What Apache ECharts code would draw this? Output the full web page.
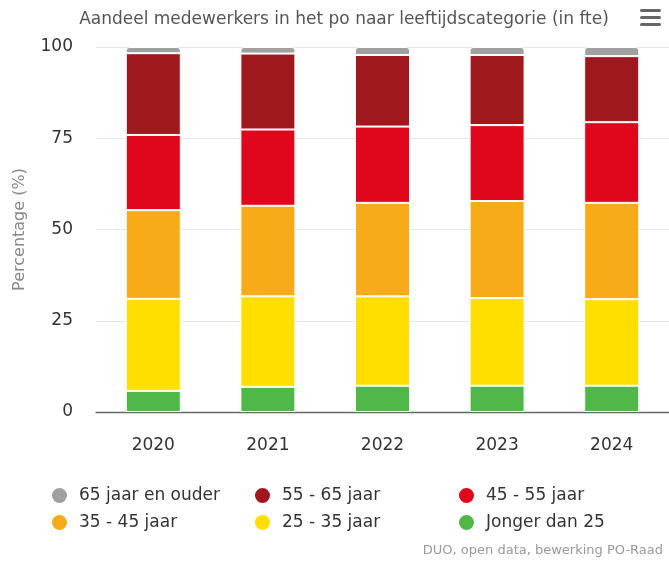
<!DOCTYPE html>
<html>
<head>
<meta charset="utf-8">
<style>html,body{margin:0;padding:0;background:#fff}#c{width:669px;height:561px}</style>
<script src="https://cdn.jsdelivr.net/npm/echarts@6/dist/echarts.min.js"></script>
</head>
<body>
<div id="c"></div>
<script>
const categories = ['2020', '2021', '2022', '2023', '2024'];
const seriesNames = ['65 jaar en ouder', '55 - 65 jaar', '45 - 55 jaar', '35 - 45 jaar', '25 - 35 jaar', 'Jonger dan 25'];
const jongerDan25 = [5.8, 6.9, 7.2, 7.2, 7.2];
const jaar25_35 = [25.2, 24.8, 24.5, 24.0, 23.7];
const jaar35_45 = [24.3, 24.8, 25.6, 26.6, 26.4];
const jaar45_55 = [20.6, 20.9, 20.9, 20.8, 22.1];
const jaar55_65 = [22.4, 20.8, 19.6, 19.2, 18.1];
const jaar65plus = [1.7, 1.8, 2.2, 2.2, 2.5];
const yTicks = [0, 25, 50, 75, 100];

const colors = {
  '65 jaar en ouder': '#a0a0a0',
  '55 - 65 jaar': '#9e181d',
  '45 - 55 jaar': '#e0061b',
  '35 - 45 jaar': '#f7ab18',
  '25 - 35 jaar': '#ffde00',
  'Jonger dan 25': '#4fb848'
};

const stackOrder = [
  ['Jonger dan 25', jongerDan25],
  ['25 - 35 jaar', jaar25_35],
  ['35 - 45 jaar', jaar35_45],
  ['45 - 55 jaar', jaar45_55],
  ['55 - 65 jaar', jaar55_65],
  ['65 jaar en ouder', jaar65plus]
];

const FONT = '"DejaVu Sans", sans-serif';

const chart = echarts.init(document.getElementById('c'), null, {renderer: 'canvas'});

const legendCols = [50, 253, 457];
const legendRows = [486, 513];
const legends = seriesNames.map((name, i) => ({
  icon: 'circle',
  itemWidth: 17,
  itemHeight: 17,
  left: legendCols[i % 3],
  top: legendRows[Math.floor(i / 3)],
  data: [name],
  selectedMode: false,
  padding: 0,
  textStyle: {fontFamily: FONT, fontSize: 17, color: '#333', padding: [0, 0, 0, 6]}
}));

chart.setOption({
  animation: false,
  textStyle: {fontFamily: FONT},
  title: [
    {
      text: 'Aandeel medewerkers in het po naar leeftijdscategorie (in fte)',
      left: 339, top: 6, textAlign: 'center',
      textStyle: {fontFamily: FONT, fontSize: 17, fontWeight: 'normal', color: '#555'}
    },
    {
      text: 'DUO, open data, bewerking PO-Raad',
      right: 6, top: 544, padding: 0,
      textStyle: {fontFamily: FONT, fontSize: 13, fontWeight: 'normal', color: '#999'}
    }
  ],
  legend: legends,
  grid: {left: 96, top: 47, width: 575, bottom: 149, containLabel: false},
  xAxis: {
    type: 'category',
    data: categories,
    axisLine: {lineStyle: {color: '#666', width: 1.3}},
    axisTick: {show: false},
    axisLabel: {fontFamily: FONT, fontSize: 17, color: '#333', margin: 25}
  },
  yAxis: {
    type: 'value',
    min: yTicks[0], max: yTicks[yTicks.length - 1], interval: 25,
    name: 'Percentage (%)',
    nameLocation: 'middle',
    nameGap: 68,
    nameTextStyle: {fontFamily: FONT, fontSize: 16, color: '#888'},
    axisLine: {show: false},
    axisTick: {show: false},
    axisLabel: {fontFamily: FONT, fontSize: 17, color: '#333', margin: 23},
    splitLine: {lineStyle: {color: '#e6e6e6', width: 1}}
  },
  series: stackOrder.map(([name, values], i) => ({
    name: name,
    type: 'bar',
    stack: 'total',
    barWidth: 55,
    data: values,
    itemStyle: {
      color: colors[name],
      borderColor: '#fff',
      borderWidth: 1,
      borderRadius: i === stackOrder.length - 1 ? [3, 3, 0, 0] : 0
    },
    emphasis: {disabled: true}
  })),
  graphic: [
    {type: 'rect', left: 640, top: 9, shape: {width: 21, height: 3, r: 1.5}, style: {fill: '#666'}},
    {type: 'rect', left: 640, top: 16, shape: {width: 21, height: 3, r: 1.5}, style: {fill: '#666'}},
    {type: 'rect', left: 640, top: 23, shape: {width: 21, height: 3, r: 1.5}, style: {fill: '#666'}}
  ]
});
</script>
</body>
</html>
